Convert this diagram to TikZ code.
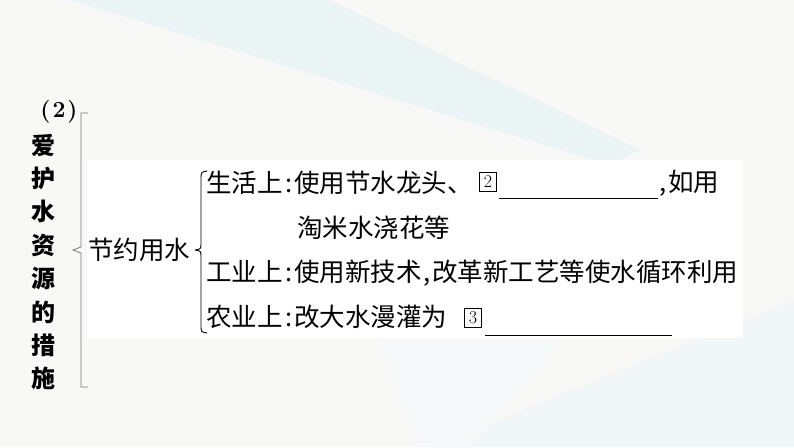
\documentclass[tikz,border=0pt]{standalone}
\usepackage{fontspec}
\usepackage{tikz}
\usepackage{xcolor}
\usetikzlibrary{positioning}
\newfontfamily\cjk{Noto Sans CJK SC}
\newcommand{\cln}{\hspace{2.5pt}:\hspace{2pt}}
\newcommand{\cma}{\hspace{1.5pt},\hspace{2pt}}
\definecolor{pagebg}{RGB}{248,248,247}
\definecolor{tintcyan}{RGB}{235,244,245}
\definecolor{bracegray}{RGB}{120,120,120}

\begin{document}
\begin{tikzpicture}[x=1pt, y=-1pt,
  rowtext/.style={inner sep=0pt, anchor=west, font=\cjk\fontsize{25.5}{25.5}\selectfont},
  numbox/.style={draw, line width=0.7pt, inner sep=0pt, minimum width=17pt, minimum height=19pt, font=\fontsize{18}{18}\selectfont},
  blank/.style={line width=1pt},
  curly/.style={line width=0.9pt, line cap=round, line join=round}]
\useasboundingbox (0,0) rectangle (794,447);
% background and faint tints
\fill[pagebg] (0,0) rectangle (794,447);
\fill[tintcyan] (70,0) -- (330,0) -- (640,150) -- (610,165) -- cycle;
\fill[tintcyan!70] (430,447) -- (794,300) -- (794,447) -- cycle;
\fill[tintcyan!50] (380,340) -- (560,340) -- (470,447) -- (420,447) -- cycle;
\fill[white] (87,160) rectangle (743,338);

% left title
\node[font=\bfseries\fontsize{23}{23}\selectfont] (num) at (59,112) {(\hspace{2pt}2\hspace{2pt})};
\node[align=center, inner sep=0pt, font=\cjk\bfseries\fontsize{24}{33.4}\selectfont] (title) at (43,262)
  {爱\\护\\水\\资\\源\\的\\措\\施};
\draw[bracegray, line width=0.8pt] (88,113) -- (81,113) -- (81,247) -- (73,250) -- (81,253) -- (81,387) -- (88,387);

% middle
\node[rowtext] (save) at (88,250) {节约用水};
\draw[curly] (207,171) .. controls (201,172) .. (201,180) -- (201,243) .. controls (201,249) .. (195,250)
  .. controls (201,251) .. (201,257) -- (201,325) .. controls (201,332) .. (207,333);

% rows
\node[rowtext] (life) at (206,183) {生活上\cln 使用节水龙头、};
\node[numbox] (n2) at (488,182) {2};
\coordinate (u2s) at (499,198);
\coordinate (u2e) at (658,198);
\draw[blank] (u2s) -- (u2e);
\node[rowtext] (ruyong) at (659,183) {,\hspace{2pt}如用};
\node[rowtext] (rice) at (297,228) {淘米水浇花等};
\node[rowtext] (industry) at (206,273) {工业上\cln 使用新技术\cma 改革新工艺等使水循环利用};
\node[rowtext] (farm) at (206,317) {农业上\cln 改大水漫灌为};
\node[numbox] (n3) at (473,318) {3};
\coordinate (u3s) at (485,335);
\coordinate (u3e) at (672,335);
\draw[blank] (u3s) -- (u3e);
\end{tikzpicture}
\end{document}
